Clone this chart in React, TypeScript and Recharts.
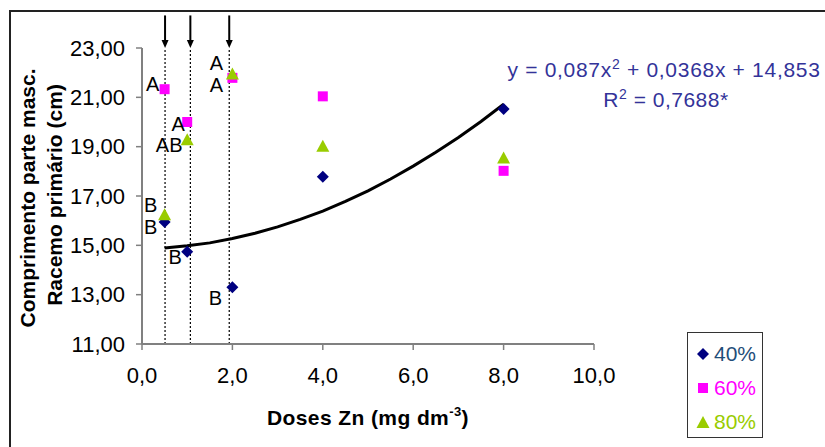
import React from "react";
import {
  ScatterChart,
  Scatter,
  XAxis,
  YAxis,
  ReferenceLine,
} from "recharts";

// Zn doses (mg dm-3) and primary raceme length (cm) per irrigation level
const doses = [0.5, 1, 2, 4, 8];
const len40 = [15.95, 14.74, 13.3, 17.78, 20.53];
const len60 = [21.33, 20.0, 21.79, 21.04, 18.02];
const len80 = [16.22, 19.26, 21.93, 19.0, 18.52];

// Tukey letters shown beside the first three doses
const letters40 = ["B", "B", "B", "", ""];
const letters60 = ["A", "A", "A", "", ""];
const letters80 = ["B", "AB", "A", "", ""];

// quadratic trend line
const trendX = [0.5, 1, 1.5, 2, 2.5, 3, 3.5, 4, 4.5, 5, 5.5, 6, 6.5, 7, 7.5, 8];
const trendY = [
  14.89, 14.98, 15.1, 15.28, 15.49, 15.75, 16.05, 16.39, 16.78, 17.21, 17.69,
  18.21, 18.77, 19.37, 20.02, 20.72,
];

const markedDoses = [0.51, 1.07, 1.93];
const xTicks = [0, 2, 4, 6, 8, 10];
const yTicks = [11, 13, 15, 17, 19, 21, 23];

const FONT = '"Liberation Sans", Arial, sans-serif';
const C40 = "#000080";
const C60 = "#FF00FF";
const C80 = "#99CC00";
const AXIS = "#808080";

const letterOffset: Record<string, [number, number]> = {
  "40-0": [-14, 5],
  "40-1": [-12, 5],
  "40-2": [-17, 11],
  "60-0": [-12, -5],
  "60-1": [-9, 2],
  "60-2": [-16, 7],
  "80-0": [-14, -10],
  "80-1": [-18, 5],
  "80-2": [-16, -11],
};

const build = (ys: number[], letters: string[]) =>
  doses.map((x, i) => ({ x, y: ys[i], letter: letters[i] }));

const data40 = build(len40, letters40);
const data60 = build(len60, letters60);
const data80 = build(len80, letters80);
const trend = trendX.map((x, i) => ({ x, y: trendY[i] }));

function Letter({ cx, cy, series, x, letter }: any) {
  if (!letter) return null;
  const off = letterOffset[`${series}-${doses.indexOf(x)}`] || [0, 0];
  return (
    <text
      x={cx + off[0]}
      y={cy + off[1]}
      textAnchor="middle"
      dominantBaseline="central"
      fontSize={20}
      fontFamily={FONT}
      fill="#000"
    >
      {letter}
    </text>
  );
}

const diamond = (props: any) => {
  const { cx, cy, payload } = props;
  return (
    <g>
      <polygon
        points={`${cx},${cy - 6} ${cx + 6},${cy} ${cx},${cy + 6} ${cx - 6},${cy}`}
        fill={C40}
      />
      <Letter cx={cx} cy={cy} series="40" x={payload.x} letter={payload.letter} />
    </g>
  );
};

const square = (props: any) => {
  const { cx, cy, payload } = props;
  return (
    <g>
      <rect x={cx - 5} y={cy - 5} width={10} height={10} fill={C60} />
      <Letter cx={cx} cy={cy} series="60" x={payload.x} letter={payload.letter} />
    </g>
  );
};

const triangle = (props: any) => {
  const { cx, cy, payload } = props;
  return (
    <g>
      <polygon
        points={`${cx},${cy - 7} ${cx + 6.5},${cy + 5} ${cx - 6.5},${cy + 5}`}
        fill={C80}
      />
      <Letter cx={cx} cy={cy} series="80" x={payload.x} letter={payload.letter} />
    </g>
  );
};

const noDot = () => <g />;

const arrowShape = (props: any) => {
  const { x1, y1, x2, y2 } = props;
  const top = Math.min(y1, y2);
  const tip = Math.max(y1, y2);
  return (
    <g>
      <line x1={x1} y1={top} x2={x2} y2={tip - 6} stroke="#000" strokeWidth={2} />
      <polygon points={`${x1 - 3.5},${tip - 8} ${x1 + 3.5},${tip - 8} ${x1},${tip}`} fill="#000" />
    </g>
  );
};

export default function App() {
  return (
    <div
      style={{
        position: "absolute",
        left: 0,
        top: 0,
        width: 825,
        height: 447,
        overflow: "hidden",
        background: "#fff",
        fontFamily: FONT,
      }}
    >
      <div
        style={{
          position: "absolute",
          left: 9,
          top: 10,
          width: 840,
          height: 460,
          border: "2px solid #222",
        }}
      />
      <ScatterChart
        width={825}
        height={447}
        margin={{ top: 48, right: 231, bottom: 43, left: 0 }}
        style={{ position: "absolute", left: 0, top: 0 }}
      >
        <XAxis
          type="number"
          dataKey="x"
          domain={[0, 10]}
          ticks={xTicks}
          height={60}
          allowDataOverflow
          tickFormatter={(v: number) => v.toFixed(1).replace(".", ",")}
          tick={{ fontSize: 22, fill: "#000", fontFamily: FONT }}
          tickSize={6}
          tickMargin={17}
          axisLine={{ stroke: AXIS, strokeWidth: 2 }}
          tickLine={{ stroke: AXIS, strokeWidth: 1.5 }}
        />
        <YAxis
          type="number"
          dataKey="y"
          domain={[11, 23]}
          ticks={yTicks}
          width={142}
          allowDataOverflow
          tickFormatter={(v: number) => v.toFixed(2).replace(".", ",")}
          tick={{ fontSize: 22, fill: "#000", fontFamily: FONT }}
          tickSize={6}
          tickMargin={11}
          axisLine={{ stroke: AXIS, strokeWidth: 2 }}
          tickLine={{ stroke: AXIS, strokeWidth: 1.5 }}
        />
        {markedDoses.map((d) => (
          <ReferenceLine
            key={`dot-${d}`}
            segment={[
              { x: d, y: 11 },
              { x: d, y: 23 },
            ]}
            stroke="#000"
            strokeWidth={1.2}
            strokeDasharray="2 2"
            ifOverflow="visible"
          />
        ))}
        {markedDoses.map((d) => (
          <ReferenceLine
            key={`arr-${d}`}
            segment={[
              { x: d, y: 23 },
              { x: d, y: 24.32 },
            ]}
            ifOverflow="visible"
            shape={arrowShape}
          />
        ))}
        <Scatter
          data={trend}
          line={{ stroke: "#000", strokeWidth: 3 }}
          lineType="joint"
          shape={noDot}
          isAnimationActive={false}
        />
        <Scatter data={data40} shape={diamond} isAnimationActive={false} />
        <Scatter data={data60} shape={square} isAnimationActive={false} />
        <Scatter data={data80} shape={triangle} isAnimationActive={false} />
      </ScatterChart>

      <svg
        width={825}
        height={447}
        style={{ position: "absolute", left: 0, top: 0, pointerEvents: "none" }}
        fontFamily={FONT}
      >
        <text transform="translate(35,198) rotate(-90)" textAnchor="middle" fontSize={21} fontWeight="bold">
          Comprimento parte masc.
        </text>
        <text transform="translate(62,195) rotate(-90)" textAnchor="middle" fontSize={21} fontWeight="bold">
          Racemo primário (cm)
        </text>
        <text x={267} y={425} fontSize={21} fontWeight="bold" letterSpacing={0.4}>
          Doses Zn (mg dm
          <tspan dy={-9} fontSize={13}>-3</tspan>
          <tspan dy={9}>)</tspan>
        </text>
        <text x={664} y={77} fontSize={21} fill="#333399" textAnchor="middle" letterSpacing={0.7}>
          y = 0,087x
          <tspan dy={-8} fontSize={14}>2</tspan>
          <tspan dy={8}> + 0,0368x + 14,853</tspan>
        </text>
        <text x={666} y={107} fontSize={21} fill="#333399" textAnchor="middle" letterSpacing={0.5}>
          R
          <tspan dy={-8} fontSize={14}>2</tspan>
          <tspan dy={8}> = 0,7688*</tspan>
        </text>
      </svg>

      <div
        style={{
          position: "absolute",
          left: 687,
          top: 332,
          width: 74,
          height: 104,
          border: "1.5px solid #333",
          boxSizing: "content-box",
        }}
      >
        {[
          { label: "40%", color: C40, text: "#1F4E79", kind: "d" },
          { label: "60%", color: C60, text: C60, kind: "s" },
          { label: "80%", color: C80, text: C80, kind: "t" },
        ].map((e, i) => (
          <div
            key={e.label}
            style={{
              position: "absolute",
              left: 8,
              top: 6 + i * 34,
              height: 30,
              display: "flex",
              alignItems: "center",
              fontSize: 21,
              color: e.text,
              lineHeight: "30px",
            }}
          >
            <svg width={14} height={14} style={{ marginRight: 4 }}>
              {e.kind === "d" && <polygon points="7,1 13,7 7,13 1,7" fill={e.color} />}
              {e.kind === "s" && <rect x={2} y={2} width={10} height={10} fill={e.color} />}
              {e.kind === "t" && <polygon points="7,1 13.5,13 0.5,13" fill={e.color} />}
            </svg>
            {e.label}
          </div>
        ))}
      </div>
    </div>
  );
}
